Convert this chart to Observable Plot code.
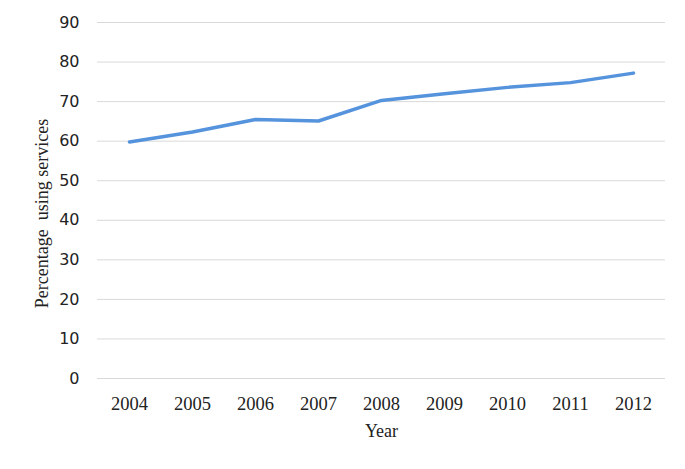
<!DOCTYPE html>
<html>
<head>
<meta charset="utf-8">
<script src="https://cdn.jsdelivr.net/npm/d3@7"></script>
<script src="https://cdn.jsdelivr.net/npm/@observablehq/plot@0.6"></script>
<style>
  body { margin: 0; background: #fff; }
</style>
</head>
<body>
<div id="chart"></div>
<script>
const years = ["2004","2005","2006","2007","2008","2009","2010","2011","2012"];
const values = [59.8, 62.3, 65.5, 65.1, 70.3, 72.0, 73.6, 74.8, 77.2];
const yTicks = [0,10,20,30,40,50,60,70,80,90];

const data = years.map((y, i) => ({year: y, value: values[i]}));

const chart = Plot.plot({
  width: 685,
  height: 469,
  marginTop: 22,
  marginBottom: 91,
  marginLeft: 97,
  marginRight: 20,
  x: {type: "point", domain: years, padding: 0.5, label: null},
  y: {domain: [0, 90], label: null},
  marks: [
    Plot.gridY(yTicks, {stroke: "#d9d9d9", strokeOpacity: 1, strokeWidth: 1}),
    Plot.axisY(yTicks, {tickSize: 0, tickPadding: 18, fontSize: 16, fontFamily: "DejaVu Sans", fill: "#222", label: null}),
    Plot.axisX({tickSize: 0, tickPadding: 18, fontSize: 18.5, fontFamily: "Liberation Serif", fill: "#222", label: null}),
    Plot.line(data, {x: "year", y: "value", stroke: "#5593dd", strokeWidth: 3.5, strokeLinecap: "round", strokeLinejoin: "round"}),
    Plot.text(["Year"], {frameAnchor: "bottom", dy: 46, fontSize: 18, fontFamily: "Liberation Serif", fill: "#222", lineAnchor: "top"}),
    Plot.text(["Percentage  using services"], {frameAnchor: "left", dx: -55, dy: 13, rotate: -90, fontSize: 18, fontFamily: "Liberation Serif", fill: "#222", textAnchor: "middle"})
  ]
});
document.getElementById("chart").append(chart);
</script>
</body>
</html>
